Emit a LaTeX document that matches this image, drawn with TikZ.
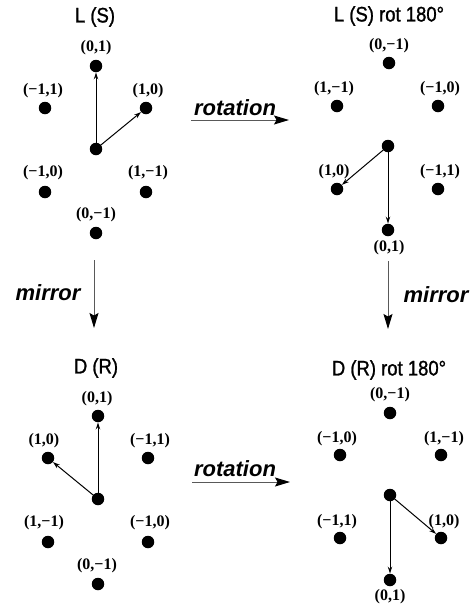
\documentclass[tikz,border=0pt]{standalone}
\usepackage{fontspec}
\setmainfont{Liberation Serif}
\newfontfamily\helv{Liberation Sans}
\newfontfamily\helvn[FakeStretch=0.88,FakeBold=1.2]{Liberation Sans}
\usetikzlibrary{arrows.meta}
\begin{document}
\begin{tikzpicture}[x=1pt,y=-1pt,
  dot/.style={circle,fill=black,inner sep=0pt,minimum size=12.5pt},
  lab/.style={font=\fontsize{16}{16}\selectfont\bfseries,inner sep=0pt},
  ttl/.style={font=\helvn\fontsize{21}{21}\selectfont,inner sep=0pt},
  op/.style={font=\helv\fontsize{22}{22}\selectfont\bfseries\itshape,inner sep=0pt},
  vec/.style={line width=1pt,-{Stealth[length=7pt,width=4.5pt]}},
  big/.style={line width=1pt,draw=black!65,-{Stealth[length=15pt,width=9pt,inset=2.5pt,color=black]}}
]
\useasboundingbox (0,0) rectangle (474,606);

% ---------- top left: L (S)
\node[ttl] (t1) at (95,17) {L (S)};
\node[dot] (a01) at (96,66) {};   \node[lab] (la01) at (96,48) {(0,1)};
\node[dot] (am11) at (45,108) {}; \node[lab] (lam11) at (43,91) {(−1,1)};
\node[dot] (a10) at (146,108) {}; \node[lab] (la10) at (148,91) {(1,0)};
\node[dot] (ac) at (96,149) {};
\node[dot] (am10) at (45,192) {}; \node[lab] (lam10) at (43,173) {(−1,0)};
\node[dot] (a1m1) at (146,192) {};\node[lab] (la1m1) at (148,173) {(1,−1)};
\node[dot] (a0m1) at (96,233) {}; \node[lab] (la0m1) at (96,215) {(0,−1)};
\draw[vec] (ac.center) -- (a01);
\draw[vec] (ac.center) -- (a10);

% ---------- top right: L (S) rot 180
\node[ttl] (t2) at (389,16) {L (S) rot 180°};
\node[dot] (b0m1) at (389,63) {};  \node[lab] (lb0m1) at (389,46) {(0,−1)};
\node[dot] (b1m1) at (337,106) {}; \node[lab] (lb1m1) at (334,89) {(1,−1)};
\node[dot] (bm10) at (438,106) {}; \node[lab] (lbm10) at (440,89) {(−1,0)};
\node[dot] (bc) at (388,146) {};
\node[dot] (b10) at (337,189) {};  \node[lab] (lb10) at (334,172) {(1,0)};
\node[dot] (bm11) at (438,189) {}; \node[lab] (lbm11) at (440,172) {(−1,1)};
\node[dot] (b01) at (388,230) {};  \node[lab] (lb01) at (389,248) {(0,1)};
\draw[vec] (bc.center) -- (b10);
\draw[vec] (bc.center) -- (b01);

% ---------- bottom left: D (R)
\node[ttl] (t3) at (96,368) {D (R)};
\node[dot] (c01) at (98,416) {};   \node[lab] (lc01) at (97,399) {(0,1)};
\node[dot] (c10) at (48,458) {};   \node[lab] (lc10) at (44,441) {(1,0)};
\node[dot] (cm11) at (148,458) {}; \node[lab] (lcm11) at (150,441) {(−1,1)};
\node[dot] (cc) at (98,499) {};
\node[dot] (c1m1) at (48,542) {};  \node[lab] (lc1m1) at (44,523) {(1,−1)};
\node[dot] (cm10) at (148,542) {}; \node[lab] (lcm10) at (150,523) {(−1,0)};
\node[dot] (c0m1) at (98,584) {};  \node[lab] (lc0m1) at (97,566) {(0,−1)};
\draw[vec] (cc.center) -- (c01);
\draw[vec] (cc.center) -- (c10);

% ---------- bottom right: D (R) rot 180
\node[ttl] (t4) at (389,370) {D (R) rot 180°};
\node[dot] (d0m1) at (390,413) {}; \node[lab] (ld0m1) at (390,395) {(0,−1)};
\node[dot] (dm10) at (340,455) {}; \node[lab] (ldm10) at (337,439) {(−1,0)};
\node[dot] (d1m1) at (441,455) {}; \node[lab] (ld1m1) at (444,439) {(1,−1)};
\node[dot] (dc) at (390,495) {};
\node[dot] (dm11) at (340,538) {}; \node[lab] (ldm11) at (337,522) {(−1,1)};
\node[dot] (d10) at (441,538) {};  \node[lab] (ld10) at (444,522) {(1,0)};
\node[dot] (d01) at (390,580) {};  \node[lab] (ld01) at (390,597) {(0,1)};
\draw[vec] (dc.center) -- (d10);
\draw[vec] (dc.center) -- (d01);

% ---------- operation arrows
\coordinate (r1a) at (191,120); \coordinate (r1b) at (289,120);
\coordinate (r2a) at (192,482); \coordinate (r2b) at (290,482);
\coordinate (m1a) at (94,260);  \coordinate (m1b) at (94,328);
\coordinate (m2a) at (388,261); \coordinate (m2b) at (388,329);
\draw[big] (r1a) -- (r1b);
\draw[big] (r2a) -- (r2b);
\draw[big] (m1a) -- (m1b);
\draw[big] (m2a) -- (m2b);
\node[op] (o1) at (235,108) {rotation};
\node[op] (o2) at (235,469) {rotation};
\node[op] (o3) at (48,293) {mirror};
\node[op] (o4) at (436,295) {mirror};
\end{tikzpicture}
\end{document}
